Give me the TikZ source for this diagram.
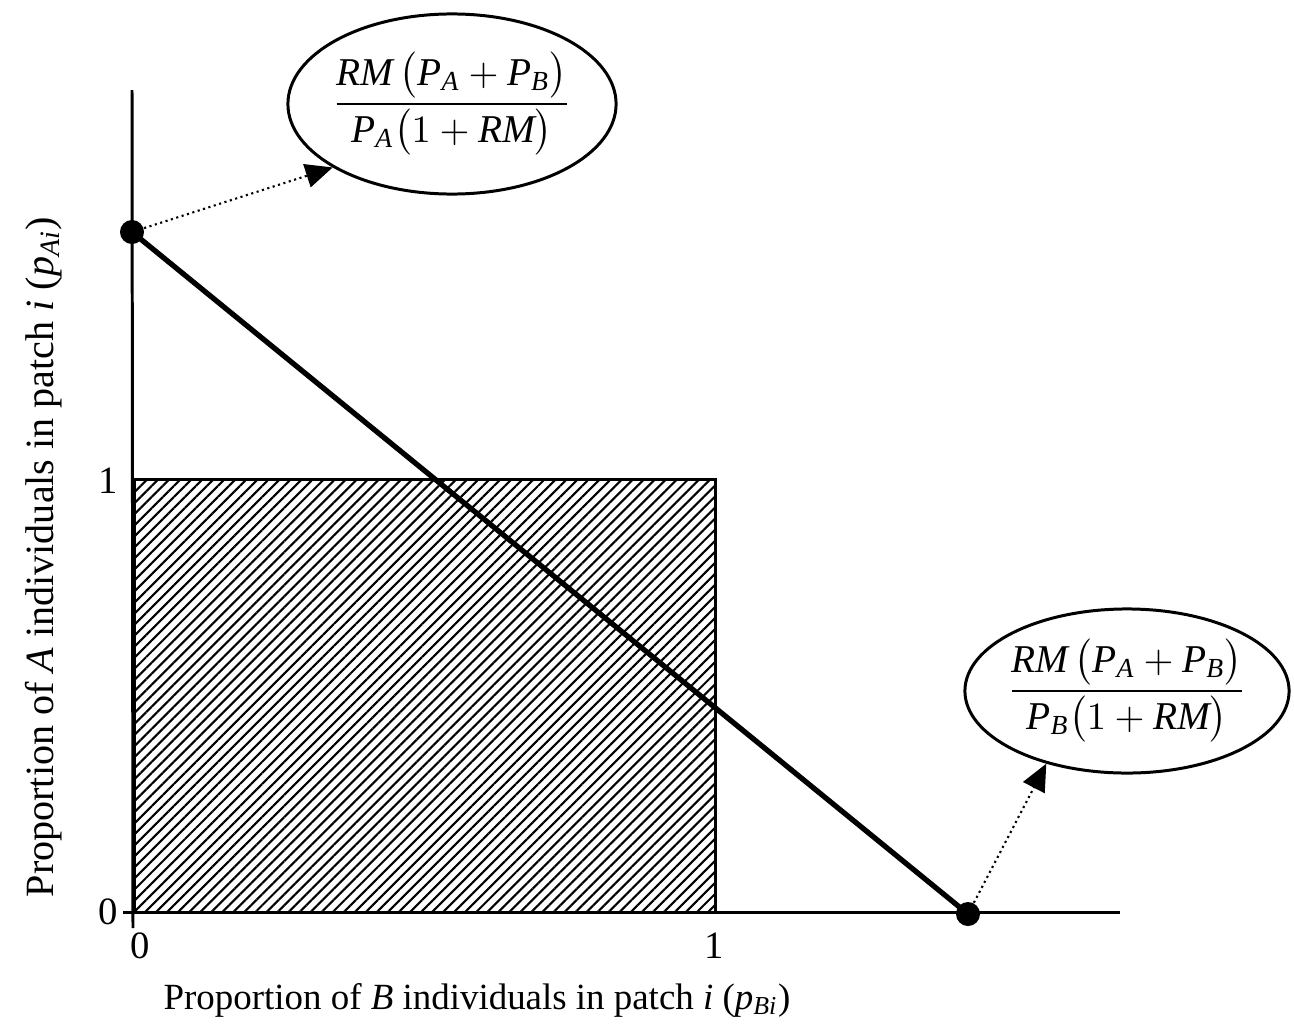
\documentclass[tikz,border=0pt]{standalone}
\usepackage{fontspec}
\setmainfont{Liberation Serif}
\usepackage{amsmath}
\usetikzlibrary{arrows.meta,patterns.meta,shapes.geometric}
\tikzset{
  axisline/.style={line width=0.85pt},
  mainline/.style={line width=1.5pt},
  dotpt/.style={circle,fill=black,inner sep=0pt,minimum size=0.24cm},
  callout/.style={ellipse,draw,line width=0.85pt,inner sep=0pt},
  fractext/.style={inner sep=0pt,font=\fontsize{11.2}{13}\selectfont},
  pointer/.style={densely dotted,line width=0.6pt,-{Triangle[length=0.27cm,width=0.24cm]}},
  lbl/.style={font=\fontsize{10.5}{12}\selectfont},
  ylbl/.style={font=\fontsize{11.4}{13}\selectfont},
  ticklbl/.style={font=\fontsize{11}{13}\selectfont},
  hatch/.style={pattern={Lines[angle=45,distance=0.078cm,line width=0.6pt]}}
}
\newcommand{\fracA}[1]{$\dfrac{\mathit{RM}\,\bigl(\mathit{P}_{\mathit{A}}+\mathit{P}_{\mathit{B}}\bigr)}{\mathit{P}_{\mathit{#1}}\bigl(1+\mathit{RM}\bigr)}$}
\begin{document}
\begin{tikzpicture}[x=0.01cm,y=-0.01cm]
\useasboundingbox (0,0) rectangle (1294,1024);
% hatched square
\path[hatch] (135,479) rectangle (715,912);
\draw[axisline] (135,912) -- (135,479) -- (715,479) -- (715,912);
% axes
\coordinate (xend) at (1120,912);
\draw[axisline] (132,90) -- (133,928);
\draw[axisline] (123,912) -- (xend);
% tick labels
\node[ticklbl] (y1) at (108,481) {1};
\node[ticklbl] (y0) at (108,912) {0};
\node[ticklbl] (x0) at (140,946) {0};
\node[ticklbl] (x1) at (714,946) {1};
% axis labels
\node[lbl] (xlab) at (477,1000) {Proportion of \textit{B} individuals in patch \textit{i} ($\mathit{p}_{\mathit{Bi}}$)};
\node[ylbl,rotate=90] (ylab) at (44,557) {Proportion of \textit{A} individuals in patch \textit{i} ($\mathit{p}_{\mathit{Ai}}$)};
% points and line
\node[dotpt] (pa) at (132,232) {};
\node[dotpt] (pb) at (968,914) {};
\draw[mainline] (pa.center) -- (pb.center);
% callouts
\node[callout,minimum width=3.28cm,minimum height=1.8cm] (ea) at (452,104) {};
\node[fractext] (ta) at (ea.center) {\fracA{A}};
\node[callout,minimum width=3.24cm,minimum height=1.64cm] (eb) at (1127,691) {};
\node[fractext] (tb) at (eb.center) {\fracA{B}};
\draw[pointer] (pa) -- (ea.208);
\draw[pointer] (pb) -- (eb.222);
\end{tikzpicture}
\end{document}
